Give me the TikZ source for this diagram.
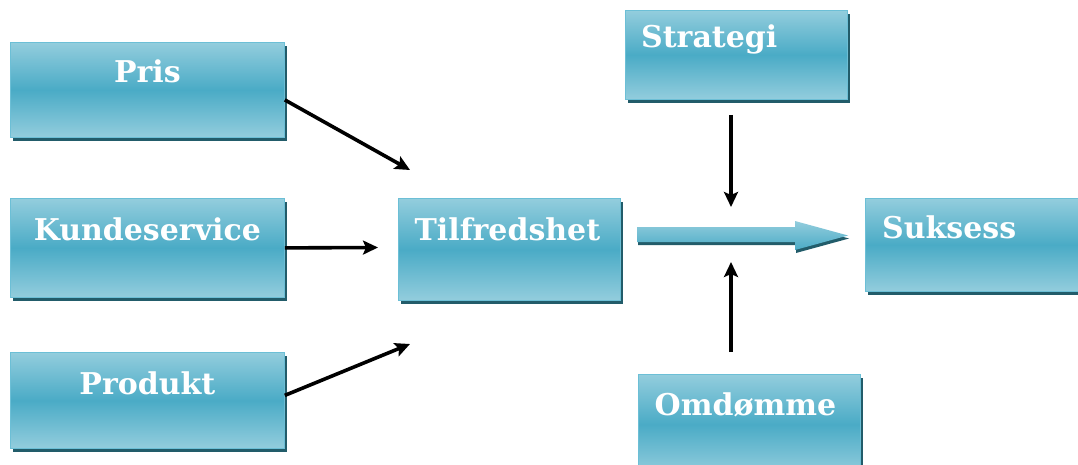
\documentclass[tikz,border=0pt]{standalone}
\usepackage{fontspec}
\setmainfont{DejaVu Serif}
\usetikzlibrary{shadows,arrows.meta}

\definecolor{boxlight}{HTML}{93CDDD}
\definecolor{boxmid}{HTML}{4AABC6}
\definecolor{boxedge}{HTML}{6CBFD6}
\definecolor{boxshadow}{HTML}{225C6A}

\tikzset{
  boxshade/.style={top color=boxlight, bottom color=boxlight, middle color=boxmid},
  box/.style={rectangle, anchor=north west, inner sep=0pt, boxshade,
    draw=boxedge, line width=0.8pt,
    drop shadow={shadow xshift=3pt, shadow yshift=-4pt, fill=boxshadow, opacity=1}},
  boxtext/.style={inner sep=0pt, text=white,
    font=\fontsize{30}{34}\selectfont\bfseries},
  link/.style={draw=black, line width=3.6pt,
    -{Stealth[length=15pt, width=14pt, inset=3pt]}},
}

\begin{document}
\begin{tikzpicture}[x=1pt, y=-1pt]
\useasboundingbox (0,0) rectangle (1078,465);

% driver boxes on the left
\node[box, minimum width=274pt, minimum height=95pt] (pris) at (10,42) {};
\node[box, minimum width=274pt, minimum height=99pt] (kunde) at (10,198) {};
\node[box, minimum width=274pt, minimum height=96pt] (produkt) at (10,352) {};

% centre, top, bottom and result boxes
\node[box, minimum width=222pt, minimum height=102pt] (tilfreds) at (398,198) {};
\node[box, minimum width=222pt, minimum height=89pt] (strategi) at (625,10) {};
\node[box, minimum width=222pt, minimum height=100pt] (omdomme) at (638,374) {};
\node[box, minimum width=225pt, minimum height=93pt] (suksess) at (865,198) {};

% box captions
\node[boxtext, anchor=base] (pris-t) at ([yshift=-41pt]pris.north) {Pris};
\node[boxtext, anchor=base] (kunde-t) at ([yshift=-42pt]kunde.north) {Kundeservice};
\node[boxtext, anchor=base] (produkt-t) at ([yshift=-42pt]produkt.north) {Produkt};
\node[boxtext, anchor=base] (tilfreds-t) at ([xshift=-2pt,yshift=-42pt]tilfreds.north) {Tilfredshet};
\node[boxtext, anchor=base west] (strategi-t) at ([xshift=16pt,yshift=-38pt]strategi.north west) {Strategi};
\node[boxtext, anchor=base] (omdomme-t) at ([xshift=-4pt,yshift=-41pt]omdomme.north) {Omdømme};
\node[boxtext, anchor=base west] (suksess-t) at ([xshift=17pt,yshift=-40pt]suksess.north west) {Suksess};

% arrow end points
\coordinate (pris-tip) at (410,170);
\coordinate (kunde-tip) at (378,247.5);
\coordinate (produkt-tip) at (410,344);
\coordinate (strategi-from) at (731,115);
\coordinate (strategi-tip) at (731,207);
\coordinate (omdomme-from) at (731,352);
\coordinate (omdomme-tip) at (731,262);

% inputs into satisfaction
\draw[link] ([yshift=-10pt]pris.east) -- (pris-tip);
\draw[link] (kunde.east) -- (kunde-tip);
\draw[link] ([yshift=5pt]produkt.east) -- (produkt-tip);

% influences on the main flow
\draw[link] (strategi-from) -- (strategi-tip);
\draw[link] (omdomme-from) -- (omdomme-tip);

% broad arrow from satisfaction to success
\coordinate (flow-start) at (637,234.5);
\coordinate (flow-end) at (848,235.5);
\path[top color=boxlight, bottom color=boxmid,
      drop shadow={shadow xshift=1pt, shadow yshift=-3pt, fill=boxshadow, opacity=1}]
  ([yshift=7.5pt]flow-start) -- (795,227) -- (795,221) -- (flow-end)
  -- (795,250) -- (795,242) -- ([yshift=-7.5pt]flow-start) -- cycle;
\end{tikzpicture}
\end{document}
